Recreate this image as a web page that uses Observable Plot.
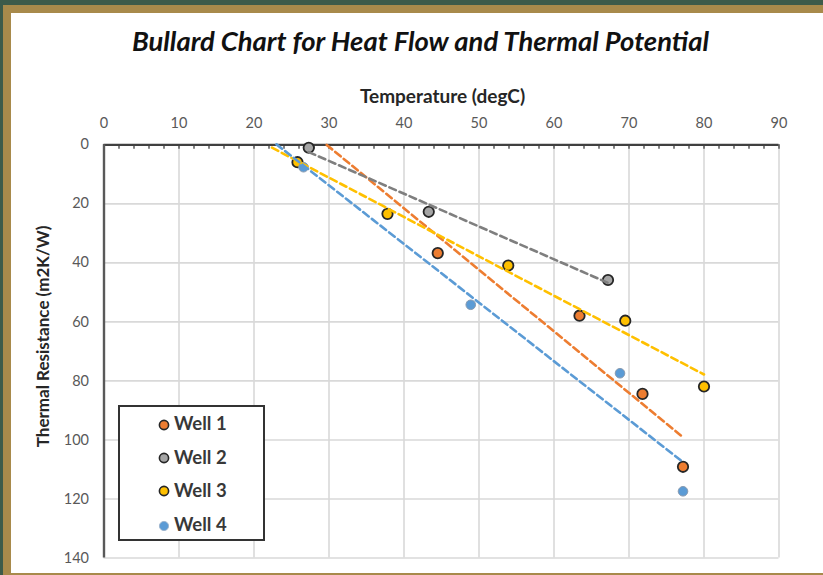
<!DOCTYPE html>
<html><head><meta charset="utf-8">
<script src="https://cdn.jsdelivr.net/npm/d3@7"></script>
<script src="https://cdn.jsdelivr.net/npm/@observablehq/plot@0.6"></script>
<style>
html,body{margin:0;padding:0;}
body{width:823px;height:575px;background:#3d5b4a;position:relative;overflow:hidden;font-family:Lato,"Open Sans",sans-serif;}
#frame{position:absolute;left:3px;top:5px;right:0;bottom:0;border-left:8px solid #a88a4b;border-top:8px solid #a88a4b;border-bottom:2px solid #a88a4b;background:#fff;}
#chart{position:absolute;left:0;top:0;z-index:1;}
#legend{position:absolute;left:118px;top:405px;width:147px;height:136px;box-sizing:border-box;border:2px solid #333;background:#fff;z-index:2;}
.item{position:absolute;left:38px;height:22px;line-height:22px;font-size:18.5px;font-weight:bold;color:#383838;white-space:nowrap;}
.item svg{vertical-align:middle;margin-right:4px;position:relative;top:-1px;}
</style>
</head><body>
<div id="frame"></div>
<div id="chart"></div>
<div id="legend"></div>
<script>
// ---- data ----
const wells = ["Well 1", "Well 2", "Well 3", "Well 4"];
const well1Temp = [44.5, 63.4, 71.8, 77.2];
const well1Res  = [36.7, 57.9, 84.4, 109.1];
const well2Temp = [27.3, 43.3, 67.2];
const well2Res  = [1.0, 22.7, 45.8];
const well3Temp = [25.8, 37.8, 53.9, 69.5, 80.0];
const well3Res  = [5.9, 23.4, 40.9, 59.6, 81.9];
const well4Temp = [26.6, 48.9, 68.8, 77.2];
const well4Res  = [7.6, 54.2, 77.4, 117.4];
// temperature at which each dashed trendline starts
const trendStart = [29.7, 27.3, 22.4, 23.0];
const xTicks = [0, 10, 20, 30, 40, 50, 60, 70, 80, 90];
const yTicks = [0, 20, 40, 60, 80, 100, 120, 140];
const minorTicks = d3.range(0, 91, 2);

// ---- styles ----
const fillColors = ["#ed7d31", "#a5a5a5", "#ffc000", "#5b9bd5"];
const lineColors = ["#ed7d31", "#7f7f7f", "#ffc000", "#5b9bd5"];
const outlineColors = ["#262626", "#262626", "#262626", "#8a9bb0"];
const outlineWidths = [1.8, 1.8, 1.8, 1];

const temps = [well1Temp, well2Temp, well3Temp, well4Temp];
const ress = [well1Res, well2Res, well3Res, well4Res];

function fit(xs, ys) {
  const mx = d3.mean(xs), my = d3.mean(ys);
  let sxy = 0, sxx = 0;
  xs.forEach((x, i) => { sxy += (x - mx) * (ys[i] - my); sxx += (x - mx) ** 2; });
  const b = sxy / sxx, a = my - b * mx;
  return t => a + b * t;
}

const dotMarks = [], lineMarks = [];
wells.forEach((w, i) => {
  const pts = temps[i].map((t, j) => ({well: w, t, r: ress[i][j]}));
  const f = fit(temps[i], ress[i]);
  const t1 = d3.max(temps[i]);
  const trend = [{t: trendStart[i], r: f(trendStart[i])}, {t: t1, r: f(t1)}];
  dotMarks.push(Plot.dot(pts, {x: "t", y: "r", r: i === 3 ? 4.8 : 5.2, fill: fillColors[i], fillOpacity: 1,
    stroke: outlineColors[i], strokeWidth: outlineWidths[i]}));
  lineMarks.push(Plot.line(trend, {x: "t", y: "r", stroke: lineColors[i], strokeWidth: 2.6, strokeDasharray: "7,4"}));
});

const chart = Plot.plot({
  width: 823, height: 575,
  marginLeft: 103.5, marginRight: 44.5, marginTop: 144.3, marginBottom: 17.5,
  style: {background: "transparent", fontFamily: "Lato, 'Open Sans', sans-serif", overflow: "visible"},
  x: {domain: [0, 90]},
  y: {domain: [0, 140], reverse: true},
  marks: [
    Plot.gridX(xTicks, {stroke: "#d9d9d9", strokeOpacity: 1, strokeWidth: 1.6}),
    Plot.gridY(yTicks, {stroke: "#d9d9d9", strokeOpacity: 1, strokeWidth: 1.6}),
    Plot.axisX(xTicks, {anchor: "top", tickSize: 0, tickPadding: 17, fontSize: 14.5, color: "#595959", label: null}),
    Plot.axisY(yTicks, {anchor: "left", tickSize: 0, tickPadding: 15, fontSize: 14.5, color: "#595959", label: null}),
    Plot.ruleX(minorTicks, {x: d => d, y1: 0, y2: 0, insetBottom: -4.5, stroke: "#404040", strokeWidth: 1.3}),
    Plot.ruleY([0], {stroke: "#404040", strokeWidth: 2.2}),
    Plot.ruleX([0], {stroke: "#595959", strokeWidth: 2.4}),
    ...dotMarks,
    ...lineMarks,
    Plot.text(["Bullard Chart for Heat Flow and Thermal Potential"], {text: d => d, frameAnchor: "top", dx: -21, dy: -102.3,
      textAnchor: "middle", lineAnchor: "middle",
      fontSize: 27.4, fontWeight: "bold", fontStyle: "italic", fill: "#111"}),
    Plot.text(["Temperature (degC)"], {text: d => d, frameAnchor: "top", dx: 1, dy: -47.6,
      textAnchor: "middle", lineAnchor: "middle",
      fontSize: 19, fontWeight: "bold", fill: "#262626"}),
    Plot.text(["Thermal Resistance (m2K/W)"], {text: d => d, frameAnchor: "left", dx: -60.5, dy: -15, rotate: -90,
      textAnchor: "middle", lineAnchor: "middle",
      fontSize: 17, fontWeight: "bold", fill: "#262626"})
  ]
});
document.getElementById("chart").appendChild(chart);

// legend
const legend = document.getElementById("legend");
const rowCenters = [16.3, 49.7, 83, 117.3];
wells.forEach((w, i) => {
  const div = document.createElement("div");
  div.className = "item";
  div.style.top = (rowCenters[i] - 11) + "px";
  const sw = i === 3 ? 1 : 1.6;
  div.innerHTML = `<svg width="12" height="12" viewBox="0 0 12 12"><circle cx="6" cy="6" r="4.6" fill="${fillColors[i]}" stroke="${i === 3 ? '#9fb6cf' : '#262626'}" stroke-width="${sw}"/></svg>${w}`;
  legend.appendChild(div);
});
</script>
</body></html>
